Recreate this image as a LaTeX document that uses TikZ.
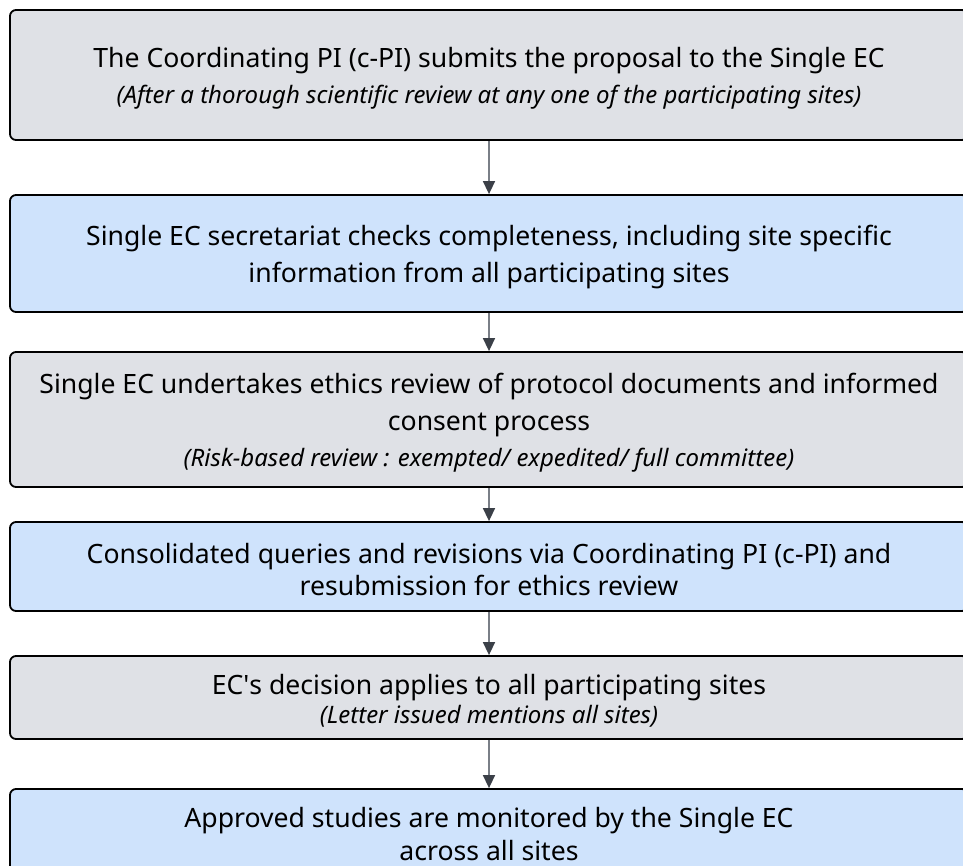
\documentclass[tikz,border=0pt]{standalone}
\usepackage{fontspec}
\setmainfont{Noto Sans}
\usetikzlibrary{arrows.meta}
\definecolor{greybox}{HTML}{DFE1E6}
\definecolor{bluebox}{HTML}{CFE3FC}
\definecolor{arrowline}{HTML}{7A7F87}
\definecolor{arrowhead}{HTML}{3B4048}
\newcommand{\notetext}[1]{{\fontsize{24}{30}\selectfont\itshape #1}}
\newcommand{\lift}{\rule{0pt}{27pt}}
\begin{document}
\begin{tikzpicture}[x=1pt, y=-1pt,
        box/.style = {draw=black, line width=1.8pt, rounded corners=6pt, minimum width=958pt, align=center, inner sep=0pt, font=\fontsize{26.6}{37}\selectfont},
        grey/.style = {box, fill=greybox},
        blue/.style = {box, fill=bluebox},
        flow/.style = {draw=arrowline, line width=1.5pt, -{Triangle[length=13pt, width=12pt, color=arrowhead]}}]
        \useasboundingbox (0,0) rectangle (963,865);
        \clip (0,0) rectangle (963,865);

        \node[grey, minimum height=130pt] at (489, 75) (0) {\lift The Coordinating PI (c-PI) submits the proposal to the Single EC\\[-1pt]
            \notetext{(After a thorough scientific review at any one of the participating sites)}};
        \node[blue, minimum height=117pt] at (489, 253.5) (1) {\lift Single EC secretariat checks completeness, including site specific\\
            information from all participating sites};
        \node[grey, minimum height=135pt] at (489, 419.5) (2) {\lift Single EC undertakes ethics review of protocol documents and informed\\
            consent process\\[-1pt]
            \notetext{(Risk-based review : exempted/ expedited/ full committee)}};
        \node[blue, minimum height=89pt] at (489, 566.5) (3) {\lift Consolidated queries and revisions via Coordinating PI (c-PI) and\\[-5pt]
            resubmission for ethics review};
        \node[grey, minimum height=83pt] at (489, 697.5) (4) {\lift EC\textquotesingle s decision applies to all participating sites\\[-8pt]
            \notetext{(Letter issued mentions all sites)}};
        \node[blue, minimum height=91pt] at (489, 834.5) (5) {Approved studies are monitored by the Single EC\\[-4pt]
            across all sites};

        \draw[flow] (0) -- (1);
        \draw[flow] (1) -- (2);
        \draw[flow] (2) -- (3);
        \draw[flow] (3) -- (4);
        \draw[flow] (4) -- (5);
    \end{tikzpicture}
\end{document}
